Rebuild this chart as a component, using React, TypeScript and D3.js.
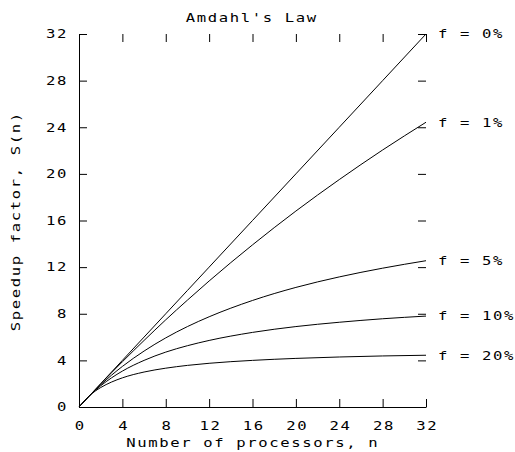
import React, { useEffect, useRef } from "react";
import * as d3 from "d3";

// processors n
const nValues = [0, 1, 2, 3, 4, 6, 8, 10, 12, 16, 20, 24, 28, 32];

// speedup S(n)
const speedup0 = [0, 1, 2, 3, 4, 6, 8, 10, 12, 16, 20, 24, 28, 32];
const speedup1 = [0, 1, 1.98, 2.94, 3.88, 5.71, 7.48, 9.17, 10.81, 13.91, 16.81, 19.51, 22.05, 24.43];
const speedup5 = [0, 1, 1.9, 2.73, 3.48, 4.8, 5.93, 6.9, 7.74, 9.14, 10.26, 11.16, 11.91, 12.55];
const speedup10 = [0, 1, 1.82, 2.5, 3.08, 4.0, 4.71, 5.26, 5.71, 6.4, 6.9, 7.27, 7.57, 7.8];
const speedup20 = [0, 1, 1.67, 2.14, 2.5, 3.0, 3.33, 3.57, 3.75, 4.0, 4.17, 4.29, 4.38, 4.44];

const seriesLabels = ["f = 0%", "f = 1%", "f = 5%", "f = 10%", "f = 20%"];
const ticks = [0, 4, 8, 12, 16, 20, 24, 28, 32];

const FONT = "'DejaVu Sans Mono', monospace";
const SX = 1.3; // wide pixel-ish glyphs
const LS = 11 / SX - 7.22; // advance ~11px after scaling

export default function App() {
  const ref = useRef<SVGSVGElement>(null);

  useEffect(() => {
    const svg = d3.select(ref.current);
    svg.selectAll("*").remove();

    const x = d3.scaleLinear().domain([0, 32]).range([79, 426]);
    const y = d3.scaleLinear().domain([0, 32]).range([407, 34]);

    const series = [speedup0, speedup1, speedup5, speedup10, speedup20];

    // stretch text horizontally around its anchor point
    const widen = (sel: any) =>
      sel.each(function (this: SVGTextElement) {
        const t = d3.select(this);
        const tx = +(t.attr("x") || 0);
        const ty = +(t.attr("y") || 0);
        t.attr("x", 0).attr("y", 0).attr("transform", `translate(${tx},${ty}) scale(${SX},1)`);
      });

    const styleAxis = (g: any) => {
      g.selectAll("text")
        .attr("font-family", FONT)
        .attr("font-size", 12)
        .attr("letter-spacing", LS)
        .attr("fill", "#000")
        .call(widen);
      g.selectAll("line").attr("stroke", "#000");
      g.selectAll("path").attr("stroke", "#000");
    };

    // left axis
    svg
      .append("g")
      .attr("transform", `translate(${x(0)},0)`)
      .call(d3.axisLeft(y).tickValues(ticks).tickSize(-8).tickSizeOuter(0).tickPadding(11))
      .call(styleAxis);

    // bottom axis
    svg
      .append("g")
      .attr("transform", `translate(0,${y(0)})`)
      .call(d3.axisBottom(x).tickValues(ticks).tickSize(-8).tickSizeOuter(0).tickPadding(14))
      .call(styleAxis)
      .selectAll("text")
      .attr("dx", LS / 2);

    // top ticks
    svg
      .append("g")
      .attr("transform", `translate(0,${y(32)})`)
      .call(d3.axisTop(x).tickValues(ticks).tickSize(-8).tickFormat(() => ""))
      .call(styleAxis)
      .call((g: any) => g.select(".domain").remove());

    // right ticks
    svg
      .append("g")
      .attr("transform", `translate(${x(32)},0)`)
      .call(d3.axisRight(y).tickValues(ticks).tickSize(-8).tickFormat(() => ""))
      .call(styleAxis)
      .call((g: any) => g.select(".domain").remove());

    const line = d3
      .line<number>()
      .x((_, i) => x(nValues[i]))
      .y((d) => y(d))
      .curve(d3.curveMonotoneX);

    svg
      .append("g")
      .selectAll("path")
      .data(series)
      .join("path")
      .attr("fill", "none")
      .attr("stroke", "#000")
      .attr("stroke-width", 1)
      .attr("d", (d) => line(d));

    svg
      .append("g")
      .selectAll("text")
      .data(series)
      .join("text")
      .attr("x", x(32) + 12)
      .attr("y", (d) => y(d[d.length - 1]))
      .attr("dominant-baseline", "central")
      .attr("font-family", FONT)
      .attr("font-size", 12)
      .attr("letter-spacing", LS)
      .text((_, i) => seriesLabels[i])
      .call(widen);

    // title and axis labels
    const text = (tx: number, ty: number, s: string, rotate = false) =>
      svg
        .append("text")
        .attr(
          "transform",
          `translate(${tx},${ty})${rotate ? " rotate(-90)" : ""} scale(${SX},1)`
        )
        .attr("text-anchor", "middle")
        .attr("dominant-baseline", "central")
        .attr("dx", LS / 2)
        .attr("font-family", FONT)
        .attr("font-size", 12)
        .attr("letter-spacing", LS)
        .text(s);

    text(251, 18, "Amdahl's Law");
    text(252, 443, "Number of processors, n");
    text(16, 222, "Speedup factor, S(n)", true);
  }, []);

  return (
    <svg
      ref={ref}
      width={515}
      height={452}
      style={{ position: "absolute", left: 0, top: 0, background: "#fff" }}
    />
  );
}
